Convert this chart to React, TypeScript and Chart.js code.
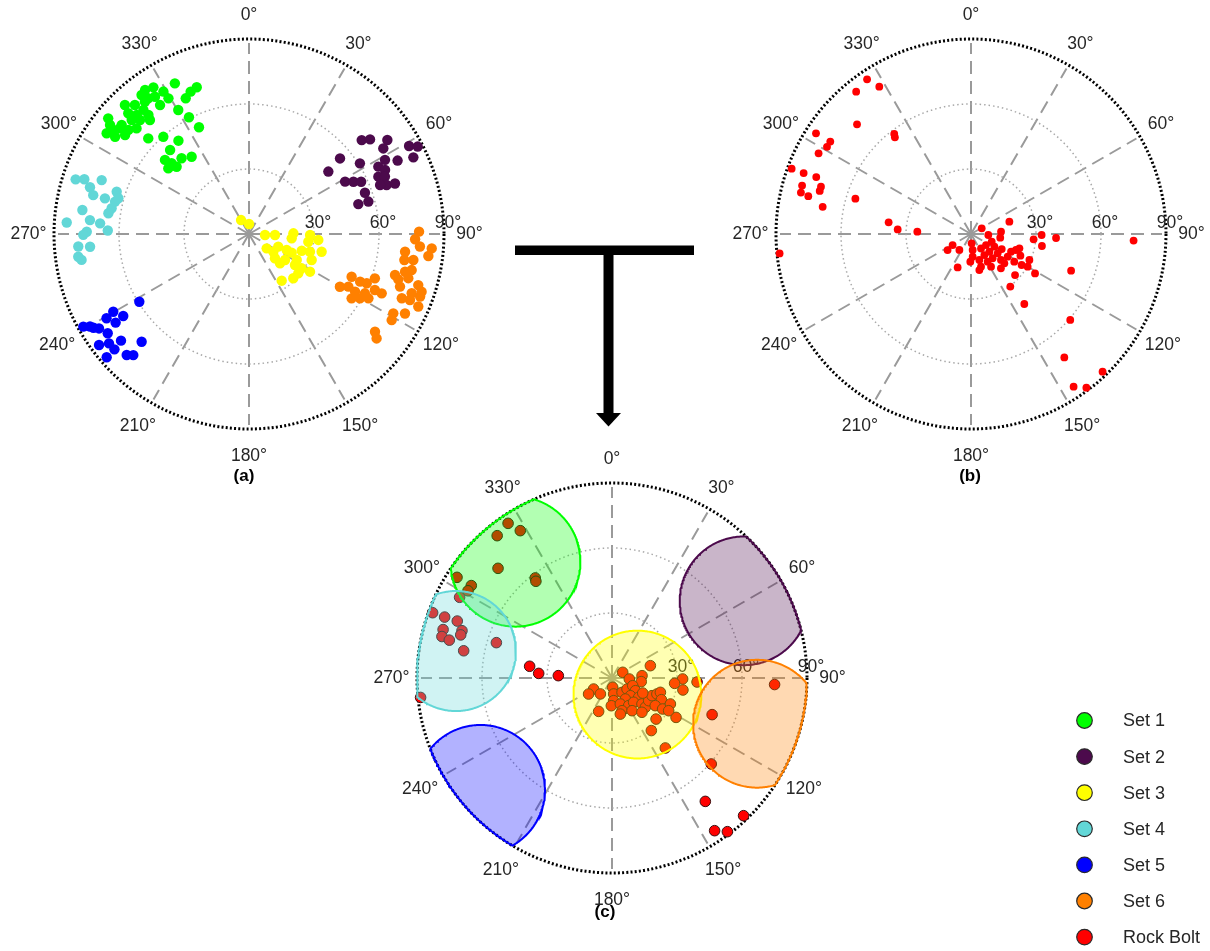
import React, { useEffect, useRef } from 'react';
import { Chart, registerables } from 'chart.js';

Chart.register(...registerables);

const W = 1210;
const H = 951;
const RIM_PX = 195;
const K = RIM_PX / 90;
const FONT = '"Liberation Sans", Arial, Helvetica, sans-serif';
const TEXT = '#262626';

// ---- Data: poles as [azimuth (deg), dip (deg)] ----
const set1Az = [333.8, 340.4, 337.7, 335.0, 326.9, 324.2, 322.3, 329.0, 329.3, 325.4, 323.4, 325.6, 318.5, 316.1, 319.6, 319.8, 316.7, 315.0, 309.4, 308.1, 310.6, 314.2, 316.3, 319.0, 305.3, 306.0, 308.6, 309.3, 313.2, 313.5, 318.6, 330.3, 332.8, 334.9, 322.9, 316.8, 311.4, 312.4, 318.3, 323.4, 309.1, 312.9, 307.5, 321.8, 310.8];
const set1Dip = [77.5, 71.9, 71.0, 69.1, 80.8, 82.0, 81.1, 76.7, 72.8, 72.3, 78.0, 76.8, 79.5, 82.6, 75.2, 71.9, 75.5, 78.8, 84.1, 81.5, 77.4, 75.5, 72.8, 69.7, 80.5, 76.4, 73.2, 77.0, 71.2, 64.1, 59.8, 65.9, 60.6, 54.4, 54.0, 53.2, 51.7, 48.4, 46.8, 44.4, 48.0, 45.6, 78.9, 77.7, 73.5];

const set2Az = [50.2, 52.0, 55.8, 57.5, 61.2, 62.6, 65.0, 50.3, 57.5, 61.4, 63.7, 51.8, 62.5, 64.8, 61.4, 63.4, 65.0, 66.1, 67.1, 70.4, 70.9, 70.4, 74.7, 74.8, 69.5];
const set2Dip = [67.7, 70.9, 77.2, 73.5, 84.3, 87.7, 83.7, 54.6, 60.7, 71.5, 76.5, 46.6, 67.3, 69.4, 50.5, 53.9, 57.1, 65.3, 68.1, 67.4, 71.3, 56.8, 52.3, 57.1, 64.6];

const set3Az = [330.3, 0, 93.6, 92.2, 89.1, 95.8, 90.9, 94.9, 97.4, 129.1, 113.4, 113.0, 113.6, 107.6, 106.2, 103.7, 133.1, 125.8, 118.6, 112.5, 133.4, 124.0, 123.1, 121.7, 135.0, 145.0, 126.0, 128.6];
const set3Dip = [7.4, 4.6, 7.4, 12.0, 20.5, 19.8, 28.2, 32.1, 27.6, 10.5, 14.7, 18.9, 21.5, 25.5, 29.3, 34.5, 16.4, 20.5, 25.1, 31.3, 19.7, 25.6, 29.0, 33.1, 28.9, 26.3, 13.9, 29.1];

const set4Az = [287.5, 288.4, 290.1, 286.4, 284.0, 287.7, 283.9, 283.6, 278.2, 280.6, 278.4, 273.6, 275.0, 274.1, 271.4, 270.8, 269.7, 265.8, 265.4, 262.4, 261.2, 285.3];
const set4Dip = [83.9, 80.1, 72.4, 76.5, 74.1, 64.1, 68.5, 63.6, 77.7, 64.5, 65.6, 84.3, 73.7, 68.9, 65.2, 74.9, 76.5, 79.0, 73.6, 79.5, 78.2, 62.5];

const set5Az = [238.3, 240.2, 236.9, 239.4, 236.4, 240.8, 239.8, 237.8, 234.9, 232.0, 230.2, 224.9, 233.5, 229.4, 225.3, 223.7, 229.1, 238.9];
const set5Dip = [59.5, 72.2, 69.3, 76.4, 73.9, 87.6, 84.9, 81.8, 79.7, 82.0, 76.9, 70.2, 86.1, 81.8, 79.4, 77.3, 86.9, 83.8];

const set6Az = [89.2, 91.8, 94.5, 96.5, 94.2, 97.0, 99.0, 99.5, 105.7, 103.6, 102.5, 106.9, 105.5, 112.6, 120.1, 117.9, 113.2, 112.7, 109.4, 118.5, 117.1, 114.0, 114.1, 122.1, 120.1, 118.3, 106.8, 110.0, 108.5, 112.8, 112.3, 113.2, 118.8, 121.1, 117.0, 127.8, 129.3, 109.2, 110.1];
const set6Dip = [78.5, 76.7, 84.6, 72.5, 79.1, 83.4, 76.8, 72.7, 70.0, 74.1, 76.9, 72.0, 76.3, 51.3, 48.5, 51.9, 55.8, 58.9, 61.6, 55.7, 60.1, 63.6, 67.1, 55.9, 59.2, 62.6, 81.6, 79.9, 84.0, 76.5, 80.3, 85.0, 76.0, 76.9, 80.8, 73.6, 76.1, 73.8, 84.1];

const boltAz = [326.1, 321.1, 328.1, 313.9, 303.0, 303.3, 301.2, 322.5, 321.8, 297.9, 290.0, 290.0, 290.2, 286.0, 287.5, 283.7, 283.1, 285.9, 280.4, 287.0, 278.1, 273.6, 272.5, 264.2, 92.3, 92.7, 90.8, 94.9, 99.6, 72.2,
  110.1, 130.9, 142.9, 136.3, 146.1, 143.1, 142.7, 143.2, 121.6, 201.8, 133.0,
  62.0, 93.3, 85.6, 97.1, 239.0, 235.6, 216.1, 175.9, 174.1, 175.8, 181.4, 145.1, 126.3, 110.4, 118.5, 133.9, 125.9, 147.6, 162.2, 148.9, 138.3, 130.9, 131.3, 163.0, 148.5, 138.9, 121.7, 113.8, 109.6, 106.5, 113.7, 122.6, 121.5, 114.0, 120.0, 116.1, 167.0];
const boltDip = [86.0, 84.4, 80.1, 73.0, 85.3, 77.7, 77.7, 58.2, 56.8, 79.6, 88.1, 82.2, 76.1, 81.1, 72.6, 80.8, 77.1, 72.6, 69.6, 55.8, 38.4, 33.9, 24.8, 88.8, 75.1, 39.3, 32.6, 29.0, 33.2, 18.6,
  49.2, 60.6, 71.4, 87.9, 84.9, 88.7, 40.6, 30.3, 34.7, 16.6, 27.8,
  5.6, 8.0, 13.9, 13.6, 9.9, 13.1, 9.1, 4.3, 7.4, 10.5, 12.8, 8.1, 8.6, 10.2, 12.3, 11.8, 15.2, 11.5, 12.6, 14.9, 15.0, 18.3, 20.5, 15.8, 17.7, 21.0, 19.9, 20.2, 22.0, 23.3, 24.9, 23.7, 27.4, 29.5, 30.2, 15.8, 17.1];

// Set regions in (c): centre azimuth, centre dip, radius (deg), clipped by the 90° rim
const setNames = ['Set 1', 'Set 2', 'Set 3', 'Set 4', 'Set 5', 'Set 6'];
const setColors = ['#00ff00', '#4c0a4c', '#ffff00', '#62d7d7', '#0000ff', '#ff8000'];
const setFills = ['rgba(0,255,0,0.3)', 'rgba(76,10,76,0.3)', 'rgba(255,255,0,0.3)', 'rgba(98,215,215,0.3)', 'rgba(0,0,255,0.3)', 'rgba(255,128,0,0.3)'];
const regionAz = [320.3, 59.7, 123.1, 279.8, 229.7, 107.5];
const regionDip = [69.8, 70.6, 14.0, 73.1, 79.6, 70.2];
const regionRadius = [30, 29.7, 29.5, 27.7, 29.8, 29.5];

const boltColor = '#ff0000';
const azTicks = [0, 30, 60, 90, 120, 150, 180, 210, 240, 270, 300, 330];
const dipTicks = [30, 60, 90];

const D2R = Math.PI / 180;

function toXY(az: number[], dip: number[]) {
  return az.map((a, i) => ({ x: dip[i] * Math.sin(a * D2R), y: dip[i] * Math.cos(a * D2R) }));
}

// circular region outline, clipped to the 90° rim (rim arc replaces the outside part)
function regionOutline(az0: number, dip0: number, rad: number) {
  const ccx = dip0 * Math.sin(az0 * D2R);
  const ccy = dip0 * Math.cos(az0 * D2R);
  const raw: { x: number; y: number; d: number }[] = [];
  for (let k = 0; k <= 360; k++) {
    const t = (az0 + 180 + k) * D2R;
    const x = ccx + rad * Math.sin(t);
    const y = ccy + rad * Math.cos(t);
    raw.push({ x, y, d: Math.hypot(x, y) });
  }
  const out: { x: number; y: number }[] = [];
  let exitAng = 0;
  for (let i = 0; i < raw.length; i++) {
    const p = raw[i];
    if (i > 0) {
      const prev = raw[i - 1];
      const prevIn = prev.d <= 90;
      const curIn = p.d <= 90;
      if (prevIn !== curIn) {
        const s = (90 - prev.d) / (p.d - prev.d);
        const ix = prev.x + s * (p.x - prev.x);
        const iy = prev.y + s * (p.y - prev.y);
        const ang = Math.atan2(ix, iy);
        if (prevIn) {
          out.push({ x: 90 * Math.sin(ang), y: 90 * Math.cos(ang) });
          exitAng = ang;
        } else {
          let diff = ang - exitAng;
          while (diff > Math.PI) diff -= 2 * Math.PI;
          while (diff < -Math.PI) diff += 2 * Math.PI;
          const n = Math.max(2, Math.ceil(Math.abs(diff) / (0.5 * D2R)));
          for (let k = 1; k < n; k++) {
            const aa = exitAng + (diff * k) / n;
            out.push({ x: 90 * Math.sin(aa), y: 90 * Math.cos(aa) });
          }
          out.push({ x: 90 * Math.sin(ang), y: 90 * Math.cos(ang) });
        }
      }
    }
    if (p.d <= 90) out.push({ x: p.x, y: p.y });
  }
  return out;
}

const polarFrame = {
  id: 'polarFrame',
  beforeDatasetsDraw(chart: any) {
    const ctx = chart.ctx;
    const xs = chart.scales.x, ys = chart.scales.y;
    const cx = xs.getPixelForValue(0), cy = ys.getPixelForValue(0);
    const pr = (d: number) => xs.getPixelForValue(d) - cx;
    const R = pr(90);
    ctx.save();
    ctx.strokeStyle = '#9a9a9a';
    ctx.lineWidth = 2;
    ctx.setLineDash([13, 7]);
    for (const a of azTicks) {
      const r = a * D2R;
      ctx.beginPath();
      ctx.moveTo(cx, cy);
      ctx.lineTo(cx + (R - 4) * Math.sin(r), cy - (R - 4) * Math.cos(r));
      ctx.stroke();
    }
    ctx.strokeStyle = '#a8a8a8';
    ctx.lineWidth = 1.5;
    ctx.setLineDash([1.5, 3]);
    for (const d of dipTicks.slice(0, 2)) {
      ctx.beginPath();
      ctx.arc(cx, cy, pr(d), 0, Math.PI * 2);
      ctx.stroke();
    }
    ctx.strokeStyle = '#000';
    ctx.lineWidth = 3;
    ctx.setLineDash([2, 2.2]);
    ctx.beginPath();
    ctx.arc(cx, cy, R, 0, Math.PI * 2);
    ctx.stroke();
    ctx.setLineDash([]);
    ctx.fillStyle = TEXT;
    ctx.font = `17.5px ${FONT}`;
    ctx.textAlign = 'center';
    ctx.textBaseline = 'middle';
    for (const a of azTicks) {
      const r = a * D2R;
      const lr = R + 25.5 - 2 * Math.cos(r);
      ctx.fillText(`${a}°`, cx + lr * Math.sin(r), cy - lr * Math.cos(r));
    }
    for (const d of dipTicks) {
      ctx.fillText(`${d}°`, cx + pr(d) + 4, cy - 11);
    }
    ctx.restore();
  },
  afterDraw(chart: any, _args: any, opts: any) {
    const ctx = chart.ctx;
    const xs = chart.scales.x, ys = chart.scales.y;
    const cx = xs.getPixelForValue(0), cy = ys.getPixelForValue(0);
    ctx.save();
    ctx.fillStyle = '#000';
    ctx.font = `bold 17px ${FONT}`;
    ctx.textAlign = 'center';
    ctx.textBaseline = 'middle';
    ctx.fillText(opts.label, cx + opts.lx, cy + opts.ly);
    if (opts.extras) {
      ctx.fillStyle = '#000';
      ctx.fillRect(515, 245.5, 179, 9.5);
      ctx.fillRect(603.5, 250, 10, 164);
      ctx.beginPath();
      ctx.moveTo(596, 413);
      ctx.lineTo(621, 413);
      ctx.lineTo(608.5, 426.5);
      ctx.closePath();
      ctx.fill();
      const names = [...setNames, 'Rock Bolt'];
      const cols = [...setColors, boltColor];
      const y0 = 720.5;
      const step = 36.1;
      ctx.font = `18px ${FONT}`;
      ctx.textAlign = 'left';
      names.forEach((n, i) => {
        const y = y0 + i * step;
        ctx.beginPath();
        ctx.arc(1084.5, y, 7.8, 0, Math.PI * 2);
        ctx.fillStyle = cols[i];
        ctx.fill();
        ctx.lineWidth = 1.2;
        ctx.strokeStyle = '#2a2a2a';
        ctx.stroke();
        ctx.fillStyle = TEXT;
        ctx.fillText(n, 1123, y + 1);
      });
    }
    ctx.restore();
  },
};

function makeConfig(cx: number, cy: number, datasets: any[], frame: any) {
  return {
    type: 'scatter',
    data: { datasets },
    options: {
      responsive: false,
      animation: false,
      devicePixelRatio: 1,
      events: [],
      layout: { padding: 0, autoPadding: false },
      scales: {
        x: { type: 'linear', display: false, min: -cx / K, max: (W - cx) / K },
        y: { type: 'linear', display: false, min: -(H - cy) / K, max: cy / K },
      },
      plugins: {
        legend: { display: false },
        tooltip: { enabled: false },
        polarFrame: frame,
      },
    },
    plugins: [polarFrame],
  } as any;
}

const setAz = [set1Az, set2Az, set3Az, set4Az, set5Az, set6Az];
const setDip = [set1Dip, set2Dip, set3Dip, set4Dip, set5Dip, set6Dip];

export default function App() {
  const refA = useRef<HTMLCanvasElement>(null);
  const refB = useRef<HTMLCanvasElement>(null);
  const refC = useRef<HTMLCanvasElement>(null);

  useEffect(() => {
    const dsA = setAz.map((az, i) => ({
      type: 'scatter',
      label: setNames[i],
      data: toXY(az, setDip[i]),
      pointRadius: 5.2,
      pointBackgroundColor: setColors[i],
      pointBorderWidth: 0,
      pointBorderColor: setColors[i],
    }));
    const dsB = [
      {
        type: 'scatter',
        label: 'Rock Bolt',
        data: toXY(boltAz, boltDip),
        pointRadius: 3.9,
        pointBackgroundColor: boltColor,
        pointBorderWidth: 0,
        pointBorderColor: boltColor,
      },
    ];
    const patches = [5, 4, 3, 2, 1, 0].map((i) => ({
      type: 'line',
      label: setNames[i],
      data: regionOutline(regionAz[i], regionDip[i], regionRadius[i]),
      borderColor: setColors[i],
      backgroundColor: setFills[i],
      borderWidth: 2,
      fill: 'shape',
      pointRadius: 0,
      tension: 0,
    }));
    const dsC = [
      ...patches,
      {
        type: 'scatter',
        label: 'Rock Bolt',
        data: toXY(boltAz, boltDip),
        pointRadius: 5.3,
        pointBackgroundColor: boltColor,
        pointBorderWidth: 1,
        pointBorderColor: '#3a1010',
      },
    ];
    const a = new Chart(refA.current!, makeConfig(249, 234, dsA, { label: '(a)', lx: -5, ly: 242 }));
    const b = new Chart(refB.current!, makeConfig(971, 234, dsB, { label: '(b)', lx: -1, ly: 242 }));
    const c = new Chart(refC.current!, makeConfig(612, 678, dsC, { label: '(c)', lx: -7, ly: 234, extras: true }));
    return () => {
      a.destroy();
      b.destroy();
      c.destroy();
    };
  }, []);

  const cs: React.CSSProperties = { position: 'absolute', left: 0, top: 0, width: W, height: H };
  return (
    <div style={{ position: 'absolute', left: 0, top: 0, width: W, height: H, background: '#fff', overflow: 'hidden' }}>
      <canvas ref={refA} width={W} height={H} style={cs} />
      <canvas ref={refB} width={W} height={H} style={cs} />
      <canvas ref={refC} width={W} height={H} style={cs} />
    </div>
  );
}
